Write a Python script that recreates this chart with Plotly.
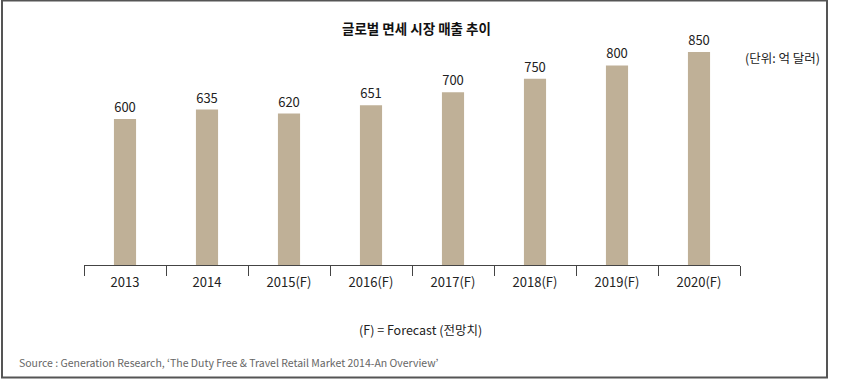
import plotly.graph_objects as go

categories = ["2013", "2014", "2015(F)", "2016(F)", "2017(F)", "2018(F)", "2019(F)", "2020(F)"]
values = [600, 635, 620, 651, 700, 750, 800, 850]

title_text = "글로벌 면세 시장 매출 추이"
unit_text = "(단위: 억 달러)"
note_text = "(F) = Forecast (전망치)"
source_text = "Source : Generation Research, ‘The Duty Free & Travel Retail Market 2014-An Overview’"

W, H = 850, 379
L, R, T, B = 84, 110, 40, 114
pw = W - L - R
ph = H - T - B

def px(x):
    return (x - L) / pw

def py(y):
    return (H - B - y) / ph

FONT = "Noto Sans CJK KR, Malgun Gothic, sans-serif"

fig = go.Figure()
fig.add_trace(go.Bar(
    x=categories, y=values,
    marker=dict(color="#BFB097", line=dict(width=0)),
    width=0.27,
    text=[str(v) for v in values],
    textposition="outside",
    textfont=dict(family=FONT, size=13, color="#222222"),
    cliponaxis=False,
))

fig.update_layout(
    width=W, height=H,
    margin=dict(l=L, r=R, t=T, b=B),
    paper_bgcolor="white", plot_bgcolor="white",
    showlegend=False,
    font=dict(family=FONT, color="#222222"),
    xaxis=dict(
        type="category",
        showline=True, linecolor="#444444", linewidth=1,
        ticks="outside", ticklen=10, tickcolor="#444444", tickwidth=1,
        tickson="boundaries",
        ticklabelstandoff=5,
        tickfont=dict(family=FONT, size=13, color="#222222"),
        showgrid=False, zeroline=False,
    ),
    yaxis=dict(
        range=[55, 894.8], visible=False, showgrid=False, zeroline=False,
    ),
    shapes=[dict(
        type="rect", xref="paper", yref="paper",
        x0=px(2), x1=px(827), y0=py(377.5), y1=py(0.5),
        line=dict(color="#555555", width=2), fillcolor="rgba(0,0,0,0)",
        layer="above",
    )],
    annotations=[
        dict(text="<b>" + title_text + "</b>", xref="paper", yref="paper",
             x=px(416), y=py(28), showarrow=False,
             font=dict(family=FONT, size=13.5, color="#111111"),
             xanchor="center", yanchor="middle"),
        dict(text=unit_text, xref="paper", yref="paper",
             x=px(743), y=py(57), showarrow=False,
             font=dict(family=FONT, size=12.5, color="#222222"),
             xanchor="left", yanchor="middle"),
        dict(text=note_text, xref="paper", yref="paper",
             x=px(420), y=py(329), showarrow=False,
             font=dict(family=FONT, size=12.5, color="#222222"),
             xanchor="center", yanchor="middle"),
        dict(text=source_text, xref="paper", yref="paper",
             x=px(17), y=py(362), showarrow=False,
             font=dict(family=FONT, size=10.5, color="#666666"),
             xanchor="left", yanchor="middle"),
    ],
)

fig.write_html("out.html", config={"displayModeBar": False},
               post_script="document.body.style.margin='0';document.body.style.overflow='hidden';")
